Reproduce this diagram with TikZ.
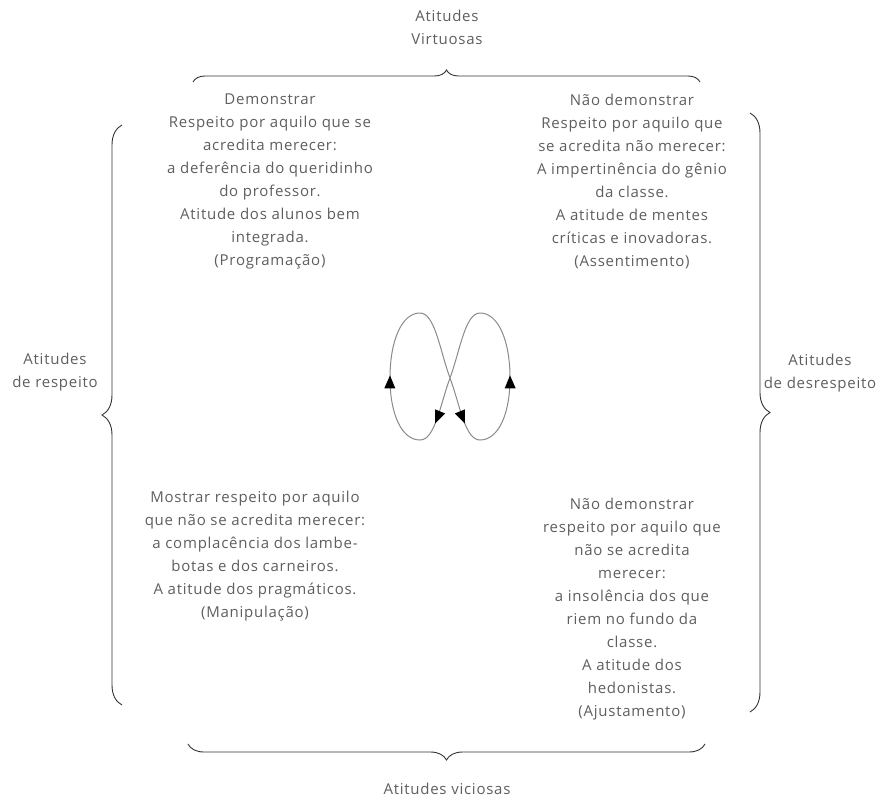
\documentclass[tikz,border=0pt]{standalone}
\usepackage{fontspec}
\setmainfont{Open Sans}[Ligatures=NoCommon,LetterSpace=5]
\usetikzlibrary{arrows,decorations.pathreplacing,decorations.markings}
\definecolor{txtgray}{HTML}{5E5E5E}
\definecolor{loopgray}{HTML}{8A8A8A}
\begin{document}
\begin{tikzpicture}[x=1pt,y=-1pt,>=triangle 45,
                    chave/.style={draw=black!80,line width=0.9pt,decorate,decoration={brace,amplitude=#1}},
                    laco/.style={draw=loopgray,line width=1pt,postaction={decorate},
                      decoration={markings,
                        mark=at position 0.08 with {\arrow[black,scale=1.5]{triangle 45}},
                        mark=at position 0.25 with {\arrow[black,scale=1.5]{triangle 45}},
                        mark=at position 0.58 with {\arrow[black,scale=1.5]{triangle 45}},
                        mark=at position 0.75 with {\arrow[black,scale=1.5]{triangle 45}}}}]
\tikzstyle{every node}=[font=\fontsize{15}{23}\selectfont,text=txtgray,align=center,inner sep=0pt]
\useasboundingbox (0,0) rectangle (887,801);

\node (virtuosas) at (447,27) {Atitudes\\Virtuosas};
\node (viciosas) at (447,789) {Atitudes viciosas};
\node (respeito) at (55,372) {Atitudes\\de respeito};
\node (desrespeito) at (820,373) {Atitudes\\de desrespeito};

\node (programacao) at (270,181) {Demonstrar\\Respeito por aquilo que se\\acredita merecer:\\a deferência do queridinho\\do professor.\\Atitude dos alunos bem\\integrada.\\(Programação)};
\node (assentimento) at (632,181) {Não demonstrar\\Respeito por aquilo que\\se acredita não merecer:\\A impertinência do gênio\\da classe.\\A atitude de mentes\\críticas e inovadoras.\\(Assentimento)};
\node (manipulacao) at (255,556) {Mostrar respeito por aquilo\\que não se acredita merecer:\\a complacência dos lambe-\\botas e dos carneiros.\\A atitude dos pragmáticos.\\(Manipulação)};
\node (ajustamento) at (632,609) {Não demonstrar\\respeito por aquilo que\\não se acredita\\merecer:\\a insolência dos que\\riem no fundo da\\classe.\\A atitude dos\\hedonistas.\\(Ajustamento)};

\path[chave=12pt] (193,82) -- (700,82);
\path[chave=16pt] (705,744) -- (188,744);
\path[chave=20pt] (122,705) -- (122,125);
\path[chave=20pt] (750,113) -- (750,712);

\path[laco] (450,378) .. controls (460,405) and (465,440) .. (480,440)
  .. controls (498,440) and (510,415) .. (510,378)
  .. controls (510,340) and (498,313) .. (480,313)
  .. controls (465,313) and (460,351) .. (450,378)
  .. controls (440,405) and (435,440) .. (420,440)
  .. controls (402,440) and (390,415) .. (390,378)
  .. controls (390,340) and (402,313) .. (420,313)
  .. controls (435,313) and (440,351) .. (450,378);
\end{tikzpicture}
\end{document}
